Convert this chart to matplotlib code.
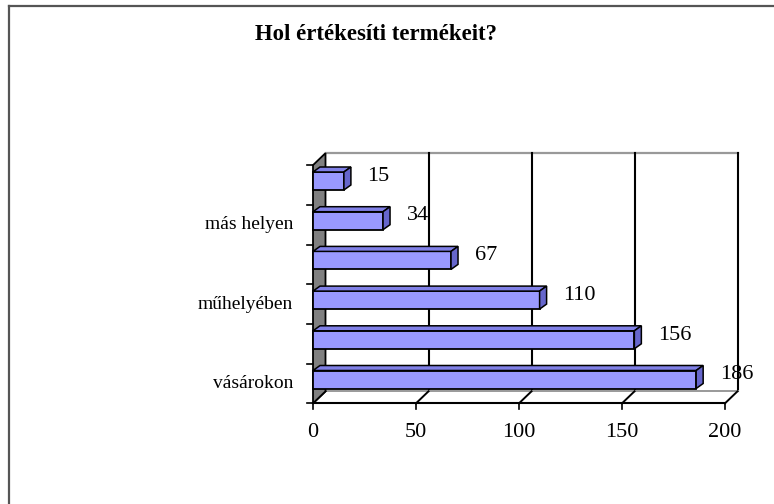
import matplotlib
matplotlib.use("Agg")
import matplotlib.pyplot as plt
from matplotlib.patches import Polygon
from matplotlib.lines import Line2D

# ---- data ----
categories = ["vásárokon", "", "műhelyében", "", "más helyen", ""]
values = [186, 156, 110, 67, 34, 15]
xticks = [0, 50, 100, 150, 200]
title = "Hol értékesíti termékeit?"

plt.rcParams['font.family'] = ['Liberation Serif', 'DejaVu Serif']

W, H = 774, 504
fig = plt.figure(figsize=(W / 100, H / 100), dpi=100)
fig.patch.set_facecolor('white')

# pixel mapping: front plane value 0 -> x=313, 200 -> x=725 ; category 0 -> y=379.5, step 39.7
x0px, sx = 313.0, 2.06
y0px, sy = 379.5, 39.7
ax = fig.add_axes([0, 0, 1, 1])
ax.set_xlim(-x0px / sx, (W - x0px) / sx)
ax.set_ylim((y0px - H) / sy, y0px / sy)
ax.axis('off')

# depth of the chart box (data units)
dx, dy = 12.5 / sx, 12.0 / sy
yfloor, ytop = -0.6, 5.4
xmax = xticks[-1]

# back wall
ax.add_patch(Polygon([(dx, yfloor + dy), (xmax + dx, yfloor + dy), (xmax + dx, ytop + dy), (dx, ytop + dy)],
                     closed=True, facecolor='white', edgecolor='none', zorder=1))
ax.plot([dx, xmax + dx], [ytop + dy, ytop + dy], color='#999999', lw=1.6, zorder=2)
for v in xticks[1:]:
    ax.plot([v + dx, v + dx], [yfloor + dy, ytop + dy], color='black', lw=1.5, zorder=2)

# floor
ax.add_patch(Polygon([(0, yfloor), (xmax, yfloor), (xmax + dx, yfloor + dy), (dx, yfloor + dy)],
                     closed=True, facecolor='white', edgecolor='none', zorder=1))
ax.plot([dx, xmax + dx], [yfloor + dy, yfloor + dy], color='#999999', lw=1.4, zorder=2)
for v in xticks:
    ax.plot([v, v + dx], [yfloor, yfloor + dy], color='black', lw=1.4, zorder=2)
ax.plot([0, xmax], [yfloor, yfloor], color='black', lw=1.5, zorder=6)

# left wall
ax.add_patch(Polygon([(0, yfloor), (0, ytop), (dx, ytop + dy), (dx, yfloor + dy)],
                     closed=True, facecolor='#808080', edgecolor='black', lw=1.3, zorder=3))

# ticks
for k in range(len(values) + 1):
    ax.plot([-6 / sx, 0], [yfloor + k, yfloor + k], color='black', lw=1.2, zorder=4)
for v in xticks:
    ax.plot([v, v], [yfloor, yfloor - 6 / sy], color='black', lw=1.2, zorder=4)
    ax.text(v, yfloor - 29 / sy, str(v), ha='center', va='center', fontsize=16)

# bars (3-D look)
bh = 18.0 / sy
bdx, bdy = 7.0 / sx, 5.0 / sy
ypos = list(range(len(values)))
ax.barh(ypos, values, height=bh, left=0, color='#9999FF', edgecolor='black', lw=1.3, zorder=5)
for y, v in zip(ypos, values):
    top = y + bh / 2
    bot = y - bh / 2
    ax.add_patch(Polygon([(0, top), (v, top), (v + bdx, top + bdy), (bdx, top + bdy)], closed=True,
                         facecolor='#8080E6', edgecolor='black', lw=1.1, zorder=5))
    ax.add_patch(Polygon([(v, bot), (v, top), (v + bdx, top + bdy), (v + bdx, bot + bdy)], closed=True,
                         facecolor='#6666CC', edgecolor='black', lw=1.1, zorder=5))
    ax.text(v + bdx + 8, y + 0.12, str(v), ha='left', va='center', fontsize=16, zorder=7)

# category labels
for y, c in zip(ypos, categories):
    if c:
        ax.text(-20 / sx, y - 0.1, c, ha='right', va='center', fontsize=14)

# title
fig.text(376 / W, 1 - 35 / H, title, ha='center', va='center', fontsize=16.4, fontweight='bold')

# outer frame (top and left edges)
fig.add_artist(Line2D([9 / W, 1], [1 - 6 / H, 1 - 6 / H], transform=fig.transFigure, color='#555555', lw=1.6))
fig.add_artist(Line2D([9 / W, 9 / W], [0, 1 - 6 / H], transform=fig.transFigure, color='#555555', lw=1.6))

fig.savefig('out.png', dpi=100, facecolor='white')
